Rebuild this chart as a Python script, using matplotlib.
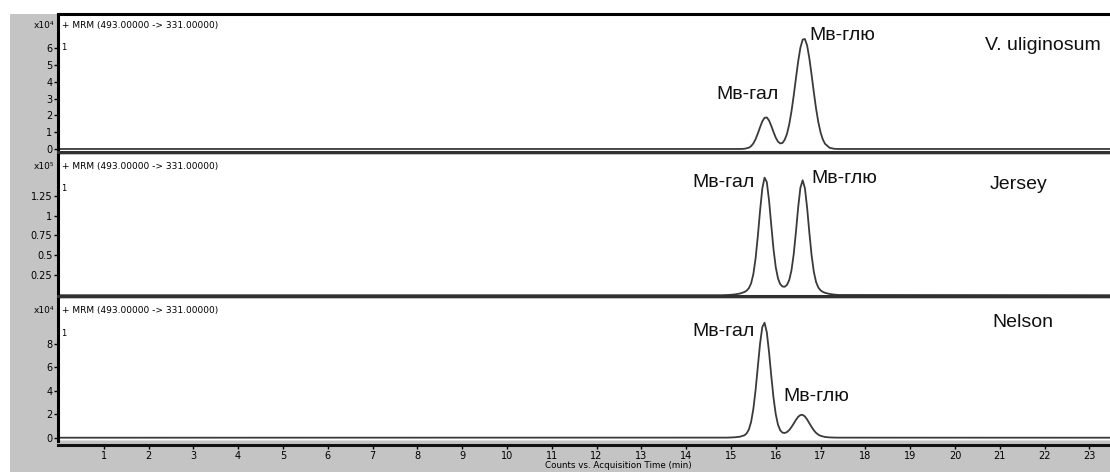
import matplotlib
matplotlib.use("Agg")
import matplotlib.pyplot as plt
from matplotlib.patches import Rectangle

plt.rcParams['font.family'] = ['Liberation Sans', 'DejaVu Sans']

# retention time (min) and intensities
t1 = [0.0, 15.0, 15.1, 15.2, 15.3, 15.4, 15.45, 15.5, 15.55, 15.6, 15.65, 15.7, 15.75, 15.8, 15.85,
      15.9, 15.95, 16.0, 16.05, 16.1, 16.15, 16.2, 16.25, 16.3, 16.35, 16.4, 16.45, 16.5, 16.55,
      16.6, 16.65, 16.7, 16.75, 16.8, 16.85, 16.9, 16.95, 17.0, 17.05, 17.1, 17.2, 17.3, 17.4, 23.5]
y1 = [0.0, 0.0, 0.0, 0.001, 0.011, 0.077, 0.169, 0.333, 0.586, 0.925, 1.30, 1.65, 1.86, 1.88, 1.70,
      1.38, 1.01, 0.675, 0.44, 0.33, 0.36, 0.55, 0.90, 1.46, 2.23, 3.17, 4.21, 5.22, 6.04,
      6.52, 6.56, 6.17, 5.40, 4.42, 3.38, 2.40, 1.60, 0.99, 0.57, 0.31, 0.073, 0.013, 0.0, 0.0]

t2 = [0.0, 14.8, 14.9, 15.0, 15.1, 15.2, 15.3, 15.35, 15.4, 15.45, 15.5, 15.55, 15.6, 15.65, 15.7,
      15.75, 15.8, 15.85, 15.9, 15.95, 16.0, 16.05, 16.1, 16.15, 16.2, 16.25, 16.3, 16.35, 16.4,
      16.45, 16.5, 16.55, 16.6, 16.65, 16.7, 16.75, 16.8, 16.85, 16.9, 16.95, 17.0, 17.05, 17.1,
      17.2, 17.3, 17.4, 23.5]
y2 = [0.0, 0.0, 0.002, 0.005, 0.011, 0.021, 0.040, 0.057, 0.088, 0.149, 0.266, 0.463, 0.742, 1.063, 1.340,
      1.476, 1.42, 1.19, 0.878, 0.576, 0.351, 0.210, 0.138, 0.109, 0.106, 0.129, 0.189, 0.310, 0.512,
      0.793, 1.102, 1.349, 1.443, 1.346, 1.097, 0.784, 0.500, 0.293, 0.165, 0.096, 0.061, 0.042, 0.030,
      0.016, 0.008, 0.003, 0.0]

t3 = [0.0, 14.9, 15.0, 15.1, 15.2, 15.3, 15.35, 15.4, 15.45, 15.5, 15.55, 15.6, 15.65, 15.7, 15.75,
      15.8, 15.85, 15.9, 15.95, 16.0, 16.05, 16.1, 16.15, 16.2, 16.25, 16.3, 16.35, 16.4, 16.45,
      16.5, 16.55, 16.6, 16.65, 16.7, 16.75, 16.8, 16.85, 16.9, 16.95, 17.0, 17.1, 17.2, 17.3,
      17.4, 23.5]
y3 = [0.0, 0.008, 0.019, 0.041, 0.085, 0.203, 0.366, 0.702, 1.351, 2.45, 4.07, 6.06, 8.02, 9.42, 9.78,
      8.97, 7.28, 5.25, 3.39, 1.99, 1.10, 0.627, 0.43, 0.40, 0.48, 0.65, 0.90, 1.20, 1.51,
      1.78, 1.93, 1.945, 1.81, 1.55, 1.23, 0.91, 0.63, 0.41, 0.26, 0.16, 0.06, 0.026, 0.011,
      0.005, 0.0]

scales = ['x10\u2074', 'x10\u2075', 'x10\u2074']
ylims = [(-0.18, 8.05), (-0.01, 1.76), (-0.28, 11.8)]
yticks = [[0, 1, 2, 3, 4, 5, 6], [0.25, 0.5, 0.75, 1, 1.25], [0, 2, 4, 6, 8]]
ytick_labels = [['0', '1', '2', '3', '4', '5', '6'],
                ['0.25', '0.5', '0.75', '1', '1.25'],
                ['0', '2', '4', '6', '8']]
samples = ['V. uliginosum', 'Jersey', 'Nelson']
sample_pos = [(20.67, 6.2), (20.78, 1.39), (20.83, 9.83)]
gal_pos = [(14.67, 3.25), (14.15, 1.41), (14.15, 9.06)]
glu_pos = [(16.76, 6.75), (16.8, 1.46), (16.16, 3.49)]
xticks = list(range(1, 24))

W, H = 1110, 472
fig = plt.figure(figsize=(W / 100, H / 100), dpi=100, facecolor='white')
fig.patches.append(Rectangle((10 / W, 0), 1, (H - 14) / H, transform=fig.transFigure,
                             facecolor='#c4c4c4', edgecolor='none', zorder=-10))

# panel extents in pixels (top, bottom)
panels = [(14, 152), (155, 296), (299, 441)]
axes = []
for i, (top, bot) in enumerate(panels):
    ax = fig.add_axes([58 / W, (H - bot) / H, (W - 58) / W, (bot - top) / H])
    ax.set_facecolor('white')
    ax.plot([t1, t2, t3][i], [y1, y2, y3][i], color='#3a3a3a', lw=1.3)
    ax.set_xlim(-0.02, 23.46)
    ax.set_ylim(*ylims[i])
    ax.set_yticks(yticks[i])
    ax.set_yticklabels(ytick_labels[i], fontsize=7, family='DejaVu Sans')
    ax.tick_params(axis='y', direction='out', length=3, width=1, pad=1)
    ax.spines['right'].set_visible(False)
    ax.spines['left'].set_linewidth(2.2)
    ax.spines['bottom'].set_linewidth(2.2)
    ax.spines['bottom'].set_color('#303030')
    ax.spines['top'].set_linewidth(2.2 if i == 0 else 0)
    ax.text(0.004, 0.92, '+ MRM (493.00000 -> 331.00000)', transform=ax.transAxes,
            fontsize=6.5, family='DejaVu Sans', va='center')
    ax.text(0.003, 0.76, '1', transform=ax.transAxes, fontsize=6, family='DejaVu Sans', va='center')
    ax.text(-0.004, 0.92, scales[i], transform=ax.transAxes, fontsize=6.5,
            family='DejaVu Sans', ha='right', va='center')
    ax.text(*gal_pos[i], 'Мв-гал', fontsize=14, va='center', color='#111111')
    ax.text(*glu_pos[i], 'Мв-глю', fontsize=14, va='center', color='#111111')
    ax.text(*sample_pos[i], samples[i], fontsize=14, va='center', color='#111111')
    if i < 2:
        ax.set_xticks([])
    axes.append(ax)

ax3 = axes[2]
ax3.spines['bottom'].set_position(('outward', 3))
ax3.spines['bottom'].set_color('#111111')
ax3.set_xticks(xticks)
ax3.set_xticklabels([str(v) for v in xticks], fontsize=7, family='DejaVu Sans')
ax3.tick_params(axis='x', direction='out', length=3, width=1, pad=1)
ax3.axhline(ylims[2][0], color='#555555', lw=1)
ax3.set_xlabel('Counts vs. Acquisition Time (min)', fontsize=6.3, family='DejaVu Sans', labelpad=0)
ax3.xaxis.set_label_coords(0.533, -0.14)

fig.savefig('out.png', dpi=100, facecolor=fig.get_facecolor())
